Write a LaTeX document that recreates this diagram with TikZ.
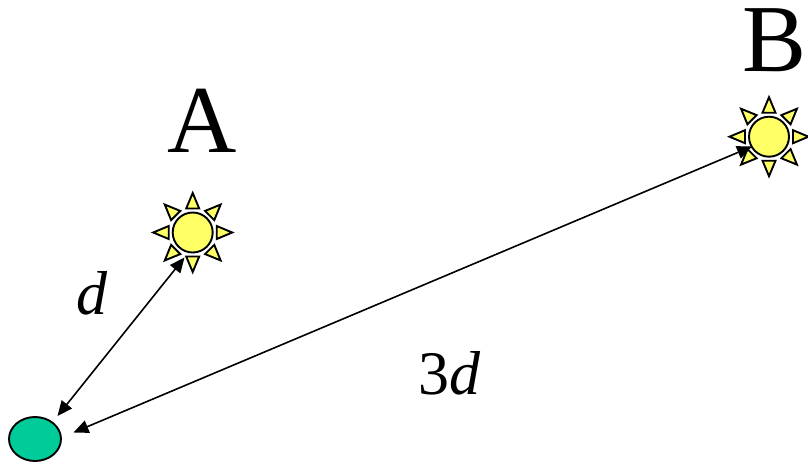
\documentclass[tikz,border=0pt]{standalone}
\usepackage{fontspec}
\setmainfont{Liberation Serif}
\usetikzlibrary{arrows.meta,shapes.geometric}
\definecolor{sunyellow}{HTML}{FFFF66}
\definecolor{obsgreen}{HTML}{00CC99}
\tikzset{
  sunline/.style={draw=black,line width=1.9pt,fill=sunyellow,line join=miter},
  sundisc/.style={circle,sunline,minimum size=40pt,inner sep=0pt,outer sep=0pt},
  observer/.style={ellipse,draw=black,line width=1.9pt,fill=obsgreen,minimum width=52pt,minimum height=44pt,inner sep=0pt},
  dist/.style={line width=1.6pt,{Triangle[length=15pt,width=13pt]}-{Triangle[length=15pt,width=13pt]}},
  biglabel/.style={font=\fontsize{96}{96}\selectfont,anchor=base,inner sep=0pt},
  dlabel/.style={font=\fontsize{62}{62}\selectfont,anchor=base,inner sep=0pt},
  pics/sunrays/.style={code={
    \foreach \a in {0,45,...,315}{
      \draw[sunline,rotate=\a] (24,-6.5) -- (39.5,0) -- (24,6.5) -- cycle;
    }
  }}
}
\begin{document}
\begin{tikzpicture}[x=1pt,y=-1pt]
\useasboundingbox (0,0) rectangle (808,463);
\node[sundisc] (sunA) at (192.7,232.5) {};
\pic at (sunA.center) {sunrays};
\node[sundisc] (sunB) at (769,136.7) {};
\pic at (sunB.center) {sunrays};
\node[observer] (obs) at (35,439) {};
\coordinate (obsA) at (57.5,416);
\coordinate (obsB) at (73.5,432.5);
\coordinate (tipA) at (184.5,257.5);
\coordinate (tipB) at (752,146.5);
\draw[dist] (obsA) -- (tipA);
\draw[dist] (obsB) -- (tipB);
\node[biglabel] (labA) at (202,152) {A};
\node[biglabel] (labB) at (774.5,71) {B};
\node[dlabel] (labd) at (92,314) {\itshape d};
\node[dlabel] (lab3d) at (449,394) {3\itshape d};
\end{tikzpicture}
\end{document}
